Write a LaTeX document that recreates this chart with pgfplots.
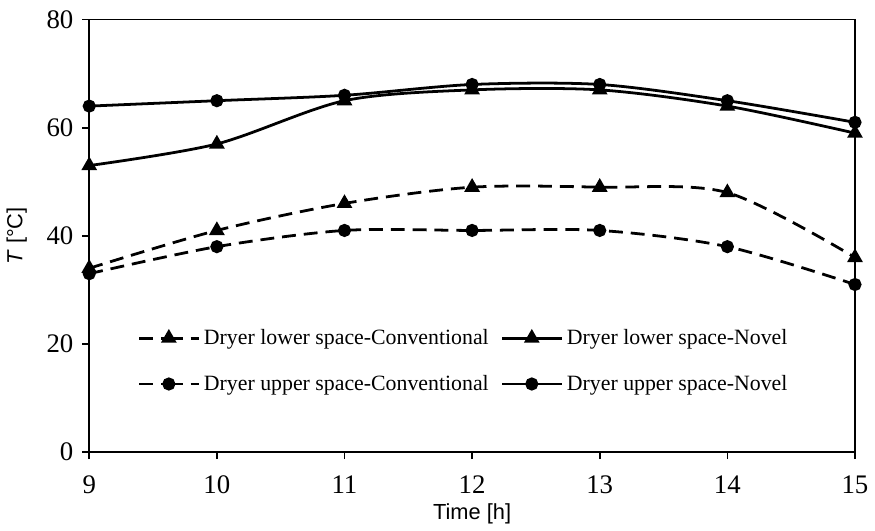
\documentclass[border=0pt]{standalone}
\usepackage{fontspec}
\setmainfont{Liberation Serif}
\newfontfamily\arial{Liberation Sans}
\usepackage{pgfplots}
\pgfplotsset{compat=1.18}
\begin{document}
\begin{tikzpicture}
\begin{axis}[
  scale only axis,
  width=386pt, height=218pt,
  xmin=9, xmax=15, ymin=0, ymax=80,
  xtick={9,...,15}, ytick={0,20,...,80},
  axis line style={line width=0.8pt},
  xtick pos=bottom, ytick pos=left,
  xtick align=outside, ytick align=outside,
  major tick length=3.5pt,
  every tick/.style={draw=black, line width=0.8pt},
  /pgf/number format/assume math mode=true,
  ticklabel style={font=\fontsize{13.5}{15}\selectfont},
  xticklabel shift=5pt,
  yticklabel shift=1pt,
  xlabel={\arial Time [h]},
  ylabel={\arial \textit{T} [°C]},
  label style={font=\fontsize{11}{13}\selectfont},
  xlabel style={yshift=2pt},
  ylabel style={yshift=3pt},
  legend columns=2,
  legend style={at={(axis cs:9.33,24.3)}, anchor=north west, draw=none, fill=none,
    font=\fontsize{11}{13}\selectfont, row sep=10pt,
    /tikz/every even column/.append style={column sep=4pt}},
  legend image code/.code={%
    \draw[#1] (0pt,0pt) -- (15pt,0pt) plot coordinates {(15pt,0pt)} -- (30pt,0pt);},
]
\addplot[black, line width=1.4pt, dash pattern=on 7pt off 4pt, smooth, tension=0.5,
  mark=triangle*, mark size=3.2pt, mark options={solid}]
  coordinates {(9,34) (10,41) (11,46) (12,49) (13,49) (14,48) (15,36)};
\addlegendentry{Dryer lower space-Conventional}
\addplot[black, line width=1.4pt, smooth, tension=0.5,
  mark=triangle*, mark size=3.2pt]
  coordinates {(9,53) (10,57) (11,65) (12,67) (13,67) (14,64) (15,59)};
\addlegendentry{Dryer lower space-Novel}
\addplot[black, line width=1.4pt, dash pattern=on 7pt off 4pt, smooth, tension=0.5,
  mark=*, mark size=2.6pt, mark options={solid}]
  coordinates {(9,33) (10,38) (11,41) (12,41) (13,41) (14,38) (15,31)};
\addlegendentry{Dryer upper space-Conventional}
\addplot[black, line width=1.4pt, smooth, tension=0.5,
  mark=*, mark size=2.6pt]
  coordinates {(9,64) (10,65) (11,66) (12,68) (13,68) (14,65) (15,61)};
\addlegendentry{Dryer upper space-Novel}
\end{axis}
\path ([yshift=2pt]current bounding box.north);
\end{tikzpicture}
\end{document}
